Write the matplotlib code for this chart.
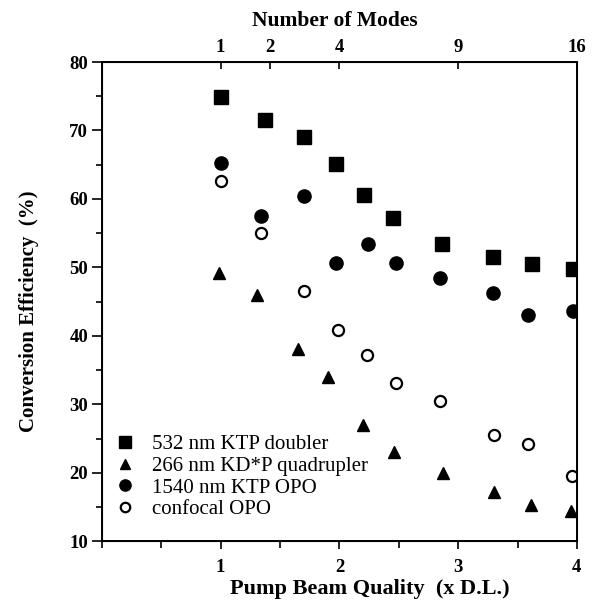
import matplotlib
matplotlib.use("Agg")
import matplotlib.pyplot as plt
import numpy as np

# Data (x = pump beam quality, y = conversion efficiency %)
x_sq = [1.00, 1.375, 1.70, 1.97, 2.21, 2.45, 2.86, 3.29, 3.62, 3.97]
y_sq = [74.9, 71.5, 69.0, 65.1, 60.6, 57.2, 53.4, 51.5, 50.5, 49.7]

x_tri = [0.99, 1.31, 1.65, 1.90, 2.20, 2.46, 2.87, 3.30, 3.61, 3.95]
y_tri = [49.2, 46.0, 38.1, 34.0, 27.0, 23.0, 19.9, 17.2, 15.3, 14.4]

x_fc = [1.00, 1.34, 1.70, 1.97, 2.24, 2.48, 2.85, 3.29, 3.59, 3.97]
y_fc = [65.2, 57.5, 60.4, 50.6, 53.4, 50.6, 48.4, 46.2, 43.0, 43.6]

x_oc = [1.00, 1.34, 1.70, 1.99, 2.23, 2.48, 2.85, 3.30, 3.59, 3.96]
y_oc = [62.6, 55.0, 46.5, 40.8, 37.2, 33.1, 30.5, 25.5, 24.2, 19.5]

labels = ["532 nm KTP doubler", "266 nm KD*P quadrupler",
          "1540 nm KTP OPO", "confocal OPO"]

bottom_ticks = [1, 2, 3, 4]
mode_ticks = [1, 2, 4, 9, 16]
y_ticks = [10, 20, 30, 40, 50, 60, 70, 80]

serif = ["Liberation Serif", "DejaVu Serif"]
plt.rcParams['font.family'] = serif

fig = plt.figure(figsize=(5.96, 6.02), dpi=100)
ax = fig.add_axes([0.171, 0.101, 0.797, 0.796])

ax.plot(x_sq, y_sq, linestyle='none', marker='s', ms=10, color='black', label=labels[0])
ax.plot(x_tri, y_tri, linestyle='none', marker='^', ms=9, color='black', label=labels[1])
ax.plot(x_fc, y_fc, linestyle='none', marker='o', ms=9.5, color='black', label=labels[2])
ax.plot(x_oc, y_oc, linestyle='none', marker='o', ms=8, markerfacecolor='white',
        markeredgecolor='black', markeredgewidth=1.6, label=labels[3])

ax.set_xlim(0, 4)
ax.set_ylim(10, 80)
ax.set_xticks(bottom_ticks)
ax.set_xticks(np.arange(0, 4.01, 0.5), minor=True)
ax.set_yticks(y_ticks)
ax.set_yticks(np.arange(10, 80.1, 5), minor=True)
ax.tick_params(axis='both', which='both', direction='out', width=1.2)
ax.tick_params(axis='x', which='major', length=6, labelsize=13.5, pad=7)
ax.tick_params(axis='x', which='minor', length=5)
ax.tick_params(axis='y', which='major', length=7, labelsize=13.5, pad=3)
ax.tick_params(axis='y', which='minor', length=4)
for lab in ax.get_xticklabels() + ax.get_yticklabels():
    lab.set_fontweight('bold')
for s in ax.spines.values():
    s.set_linewidth(1.4)

ax.set_xlabel("Pump Beam Quality  (x D.L.)", fontsize=16, fontweight='bold', labelpad=2)
ax.xaxis.label.set_x(0.564)
ax.set_ylabel("Conversion Efficiency  (%)", fontsize=15, fontweight='bold', labelpad=22)
ax.yaxis.label.set_y(0.48)

ax2 = ax.twiny()
ax2.set_xlim(ax.get_xlim())
ax2.set_xticks(np.sqrt(mode_ticks))
ax2.set_xticklabels([str(m) for m in mode_ticks], fontweight='bold', fontsize=13.5)
ax2.tick_params(axis='x', direction='in', length=5, width=1.2, pad=4)
ax2.set_xlabel("Number of Modes", fontsize=15.5, fontweight='bold', labelpad=10)
ax2.xaxis.label.set_x(0.49)

leg = ax.legend(loc='lower left', bbox_to_anchor=(-0.005, 0.015), frameon=False,
                fontsize=15, handlelength=1.0, handletextpad=0.8,
                labelspacing=0.1, borderaxespad=0.3, markerscale=0.85)

fig.savefig("out.png", dpi=100)
